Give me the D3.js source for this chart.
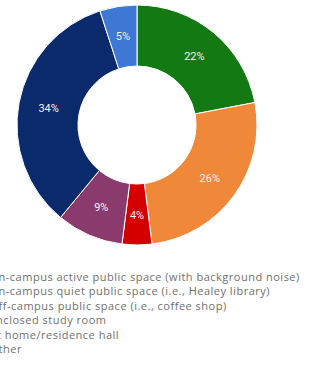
<!DOCTYPE html>
<html>
  <head>
    <meta charset="utf-8">
    <style>
      body { margin: 0; background: #fff; }
      svg { display: block; }
      .legend text { font-family: "Open Sans", sans-serif; font-size: 11px; letter-spacing: 0.5px; fill: #6f6f6f; }
      .lbl { font-family: Roboto, sans-serif; font-size: 11px; fill: #f2f2f2; }
    </style>
  </head>
  <body>
    <div class="chart"></div>
    <script src="https://cdn.jsdelivr.net/npm/d3@7"></script>
    <script>
      // categories in legend order
      const categories = [
        "On-campus active public space (with background noise)",
        "On-campus quiet public space (i.e., Healey library)",
        "Off-campus public space (i.e., coffee shop)",
        "Enclosed study room",
        "At home/residence hall",
        "Other"
      ];
      const values = [22, 26, 4, 9, 34, 5];
      const colors = ["#137a13", "#f0883a", "#d40000", "#8a3a6c", "#0b2a6c", "#3f78d4"];

      const width = 314, height = 377;
      const cx = 137, cy = 125, outerR = 120, innerR = 59;

      const svg = d3.select(".chart").append("svg")
        .attr("width", width)
        .attr("height", height);

      const pie = d3.pie().sort(null).value(d => d);
      const arc = d3.arc().innerRadius(innerR).outerRadius(outerR);
      const labelArc = d3.arc().innerRadius(90).outerRadius(90);

      const g = svg.append("g").attr("transform", `translate(${cx},${cy})`);
      const arcs = pie(values);

      g.selectAll("path")
        .data(arcs)
        .enter().append("path")
        .attr("d", arc)
        .attr("fill", (d, i) => colors[i])
        .attr("stroke", "#fff")
        .attr("stroke-width", 1);

      g.selectAll(".lbl")
        .data(arcs)
        .enter().append("text")
        .attr("class", "lbl")
        .attr("transform", d => `translate(${labelArc.centroid(d)})`)
        .attr("text-anchor", "middle")
        .attr("dy", "0.35em")
        .text(d => d.data + "%");

      // legend, clipped at the left edge like the screenshot
      const legend = svg.append("g").attr("class", "legend");
      legend.selectAll("text")
        .data(categories)
        .enter().append("text")
        .attr("x", -10.5)
        .attr("y", (d, i) => 277 + i * 14.5)
        .attr("dy", "0.35em")
        .text(d => d);
    </script>
  </body>
</html>
